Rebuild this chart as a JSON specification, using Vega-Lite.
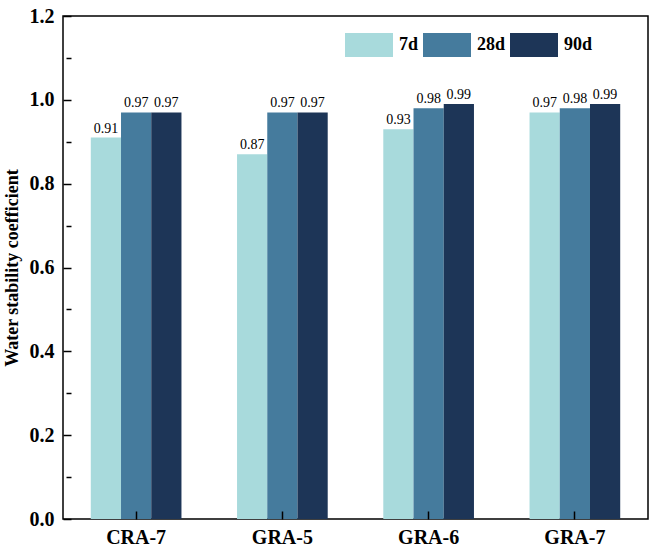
{
  "$schema": "https://vega.github.io/schema/vega-lite/v6.json",
  "width": 585,
  "height": 503,
  "autosize": {"type": "none"},
  "padding": {"left": 63, "top": 16, "right": 14, "bottom": 35},
  "background": "white",
  "config": {
    "font": "Liberation Serif",
    "view": {"stroke": "black", "strokeWidth": 1.5},
    "axis": {"grid": false, "ticks": true, "zindex": 1, "domain": false, "tickColor": "black", "tickWidth": 1.5, "labelColor": "black", "titleColor": "black"}
  },
  "data": {"values": [
    {"group": "CRA-7", "period": "7d", "value": 0.91},
    {"group": "CRA-7", "period": "28d", "value": 0.97},
    {"group": "CRA-7", "period": "90d", "value": 0.97},
    {"group": "GRA-5", "period": "7d", "value": 0.87},
    {"group": "GRA-5", "period": "28d", "value": 0.97},
    {"group": "GRA-5", "period": "90d", "value": 0.97},
    {"group": "GRA-6", "period": "7d", "value": 0.93},
    {"group": "GRA-6", "period": "28d", "value": 0.98},
    {"group": "GRA-6", "period": "90d", "value": 0.99},
    {"group": "GRA-7", "period": "7d", "value": 0.97},
    {"group": "GRA-7", "period": "28d", "value": 0.98},
    {"group": "GRA-7", "period": "90d", "value": 0.99}
  ]},
  "encoding": {
    "x": {"field": "group", "type": "nominal", "sort": null,
      "scale": {"paddingInner": 0.38, "paddingOuter": 0.19},
      "axis": {"title": null, "labelAngle": 0, "labelFontSize": 20, "labelFontWeight": "bold", "ticks": true, "tickSize": 8, "offset": -8, "labelPadding": 8, "zindex": 1}},
    "xOffset": {"field": "period", "type": "nominal", "sort": ["7d", "28d", "90d"]},
    "y": {"field": "value", "type": "quantitative", "scale": {"domain": [0, 1.2], "nice": false},
      "axis": {"title": "Water stability coefficient", "titleFontSize": 18, "titleFontWeight": "bold", "titlePadding": 8,
        "values": [0, 0.1, 0.2, 0.3, 0.4, 0.5, 0.6, 0.7, 0.8, 0.9, 1.0, 1.1, 1.2],
        "labelExpr": "(round(datum.value * 10) % 2 == 0) ? format(datum.value, '.1f') : ''",
        "labelFontSize": 20, "labelFontWeight": "bold", "labelPadding": 9, "ticks": true, "zindex": 1, "offset": -8,
        "tickSize": {"condition": {"test": "round(datum.value * 10) % 2 == 0", "value": 8}, "value": 5}}}
  },
  "layer": [
    {
      "mark": {"type": "bar"},
      "encoding": {
        "color": {"field": "period", "type": "nominal", "sort": ["7d", "28d", "90d"],
          "scale": {"domain": ["7d", "28d", "90d"], "range": ["#A8DADC", "#457B9D", "#1D3557"]},
          "legend": {"title": null, "orient": "none", "legendX": 282, "legendY": 5, "direction": "horizontal", "columns": 3,
            "symbolType": "M-1,-0.5L1,-0.5L1,0.5L-1,0.5Z", "symbolSize": 2304, "symbolStrokeWidth": 0, "symbolOpacity": 1,
            "labelFontSize": 18, "labelFontWeight": "bold", "labelColor": "black", "labelOffset": 6, "columnPadding": 4}}
      }
    },
    {
      "mark": {"type": "text", "baseline": "bottom", "dy": -2, "fontSize": 14, "color": "black"},
      "encoding": {
        "text": {"field": "value", "type": "quantitative", "format": ".2f"}
      }
    }
  ]
}
